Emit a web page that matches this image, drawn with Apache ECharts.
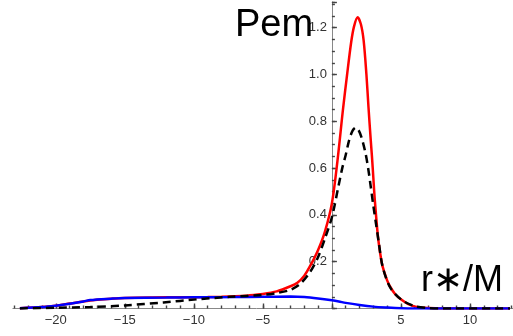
<!DOCTYPE html>
<html>
<head>
<meta charset="utf-8">
<script src="https://cdn.jsdelivr.net/npm/echarts@6/dist/echarts.min.js"></script>
<style>
html,body{margin:0;padding:0;background:#fff;}
#chart{width:513px;height:336px;}
</style>
</head>
<body>
<div id="chart"></div>
<script>
// ---- data ----
var redX  = [-22.6,-21,-20,-19,-18,-17,-16,-15,-13,-11,-9,-8,-7,-6,-5,-4,-3,-2.5,-2,-1.5,-1,-0.5,0,0.4,0.8,1.1,1.4,1.6,1.86,2.1,2.3,2.5,2.65,2.8,2.9,3.0,3.1,3.33,3.5,3.67,4.0,4.22,4.6,5.07,5.5,6.04,7,8,12.9];
var redY  = [0.001,0.006,0.012,0.021,0.030,0.037,0.042,0.045,0.047,0.048,0.049,0.050,0.052,0.056,0.062,0.073,0.095,0.11,0.14,0.19,0.25,0.33,0.45,0.63,0.85,1.0,1.14,1.205,1.245,1.215,1.145,1.0,0.86,0.73,0.65,0.56,0.47,0.31,0.235,0.18,0.12,0.093,0.06,0.036,0.02,0.008,0.002,0,0];
var dashX = [-22.6,-20,-17.5,-15,-12.2,-9.8,-7.4,-5,-4,-3,-2.3,-1.57,-1.0,-0.5,0,0.5,0.75,1.0,1.25,1.5,1.72,1.95,2.2,2.46,2.65,2.78,3.0,3.2,3.4,3.67,4.22,5.07,6,7,8,12.9];
var dashY = [0,0.003,0.006,0.013,0.026,0.039,0.050,0.058,0.066,0.08,0.105,0.157,0.22,0.30,0.39,0.53,0.60,0.656,0.72,0.76,0.773,0.76,0.72,0.656,0.59,0.535,0.44,0.36,0.28,0.18,0.09,0.036,0.01,0.002,0,0];
var blueX = [-22.6,-21,-20,-19,-18,-17.5,-16,-15,-12,-10,-7,-5,-3,-2,-1,0,0.5,1,2,3,4,5,6,12.9];
var blueY = [0.001,0.006,0.012,0.020,0.030,0.036,0.042,0.045,0.047,0.048,0.049,0.050,0.051,0.049,0.043,0.035,0.030,0.024,0.015,0.008,0.004,0.001,0,0];
var xTickLabels = [-20,-15,-10,-5,5,10];
var yTickLabels = [0.2,0.4,0.6,0.8,1.0,1.2];
var yTitle = 'Pem';
var xTitle = 'r\u2217/M';

function zip(xs, ys){ var o=[]; for(var i=0;i<xs.length;i++){ o.push([xs[i], ys[i]]); } return o; }

// visible plot window of the reference: x from -23.1 (px 13) to 12.9 (px 510)
var VIS_MIN = -23.1, VIS_MAX = 12.9, VIS_L = 13, VIS_R = 510;
var K = (VIS_R - VIS_L) / (VIS_MAX - VIS_MIN);     // px per x unit
var ZERO_PX = VIS_L + (0 - VIS_MIN) * K;
// axis extent uses tick-aligned bounds; grid is widened so the visible part stays in place
var XMIN = -25, XMAX = 15;
var GL = ZERO_PX + XMIN * K;                     // may be negative
var GR = 513 - (ZERO_PX + XMAX * K);             // may be negative
var YMIN = 0, YMAX = 1.31;
var yOff = -(ZERO_PX - GL);

var chart = echarts.init(document.getElementById('chart'), null, {renderer:'canvas'});
var axisColor = '#888888';
var tickColor = '#444444';
var labelColor = '#333333';
var labelFont = 'Liberation Sans, Arial, sans-serif';

chart.setOption({
  animation: false,
  backgroundColor: '#ffffff',
  grid: {left: GL, right: GR, top: 2, bottom: 27.5, containLabel: false, outerBoundsMode: 'none'},
  xAxis: [{
    type: 'value', min: XMIN, max: XMAX, interval: 5,
    axisLine: {show: true, onZero: false, lineStyle: {color: axisColor, width: 1}},
    axisTick: {show: true, inside: true, length: 5, lineStyle: {color: tickColor, width: 1.4}},
    axisLabel: {show: true, customValues: xTickLabels, margin: 5, color: labelColor, fontSize: 13, fontFamily: labelFont,
      formatter: function(v){ return v < 0 ? '\u2212' + Math.abs(v) : String(v); }},
    splitLine: {show: false}
  },{
    type: 'value', min: XMIN, max: XMAX, interval: 1, position: 'bottom',
    axisLine: {show: false, onZero: false},
    axisTick: {show: true, inside: true, length: 3, lineStyle: {color: tickColor, width: 1.4}},
    axisLabel: {show: false},
    splitLine: {show: false}
  }],
  yAxis: [{
    type: 'value', min: YMIN, max: YMAX, interval: 0.2, position: 'left', offset: yOff,
    axisLine: {show: true, onZero: false, lineStyle: {color: axisColor, width: 1}},
    axisTick: {show: true, inside: true, length: 5, lineStyle: {color: tickColor, width: 1.4}},
    axisLabel: {show: true, customValues: yTickLabels, margin: 5, color: labelColor, fontSize: 13, fontFamily: labelFont,
      formatter: function(v){ return v.toFixed(1); }},
    splitLine: {show: false}
  },{
    type: 'value', min: YMIN, max: YMAX, interval: 0.05, position: 'left', offset: yOff,
    axisLine: {show: false, onZero: false},
    axisTick: {show: true, inside: true, length: 3, lineStyle: {color: tickColor, width: 1.4}},
    axisLabel: {show: false},
    splitLine: {show: false}
  }],
  series: [
    {type: 'line', name: 'red', data: zip(redX, redY), showSymbol: false, smooth: 0.3,
     lineStyle: {color: '#ff0000', width: 2.5}, z: 2},
    {type: 'line', name: 'blue', data: zip(blueX, blueY), showSymbol: false, smooth: 0.3,
     lineStyle: {color: '#0000ff', width: 2.5}, z: 3},
    {type: 'line', name: 'dash', data: zip(dashX, dashY), showSymbol: false, smooth: 0.3,
     lineStyle: {color: '#000000', width: 2.5, type: [8, 5]}, z: 4}
  ],
  graphic: [
    // blank the parts of the widened axis that lie outside the reference's plot window
    {type: 'rect', left: 0, top: 295, z: 50, shape: {width: VIS_L - 0.5, height: 20}, style: {fill: '#ffffff'}},
    {type: 'text', left: 235, top: 7, z: 100, style: {text: yTitle, fill: '#000', font: '38px "Liberation Sans", Arial, sans-serif'}},
    {type: 'text', left: 421, top: 263, z: 100, style: {text: xTitle, fill: '#000', font: '36px "Liberation Sans", Arial, sans-serif'}}
  ]
});
</script>
</body>
</html>
